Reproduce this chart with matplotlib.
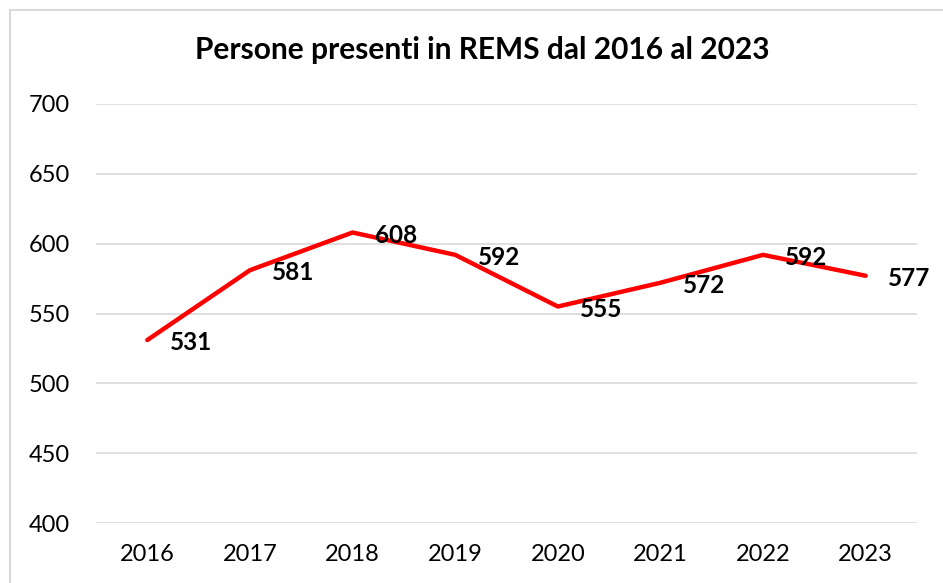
import matplotlib
matplotlib.use("Agg")
import matplotlib.pyplot as plt
from matplotlib.patches import Rectangle

# Data
years = ["2016", "2017", "2018", "2019", "2020", "2021", "2022", "2023"]
persons = [531, 581, 608, 592, 555, 572, 592, 577]

plt.rcParams["font.family"] = ["Lato", "DejaVu Sans"]

fig = plt.figure(figsize=(9.43, 5.83), dpi=100)
ax = fig.add_axes([96 / 943, 1 - 523 / 583, (917 - 96) / 943, (523 - 104) / 583])

x = list(range(len(years)))
ax.plot(x, persons, color="#FF0000", linewidth=3.2, solid_capstyle="round", zorder=3)

for xi, v in zip(x, persons):
    ax.annotate(str(v), (xi, v), xytext=(16, -2), textcoords="offset points",
                ha="left", va="center", fontsize=17.5, fontweight="bold", color="black", zorder=4)

ax.set_xlim(-0.5, len(years) - 0.5)
ax.set_ylim(400, 700)
ax.set_yticks(range(400, 701, 50))
ax.set_xticks(x)
ax.set_xticklabels(years)
ax.tick_params(axis="both", length=0, labelsize=17, colors="black")
ax.tick_params(axis="y", pad=19)
ax.tick_params(axis="x", pad=15)
ax.grid(axis="y", color="#D9D9D9", linewidth=1.2)
ax.set_axisbelow(True)
for s in ax.spines.values():
    s.set_visible(False)

fig.text(482 / 943, 1 - 50 / 583, "Persone presenti in REMS dal 2016 al 2023",
         ha="center", va="center", fontsize=21.5, fontweight="bold")

# chart border (only left and top visible in the crop)
fig.patches.append(Rectangle((10 / 943, -0.1), 1.2, 1 - 10 / 583 + 0.1,
                             transform=fig.transFigure, fill=False,
                             edgecolor="#D9D9D9", linewidth=1.5))

fig.savefig("out.png", dpi=100)
